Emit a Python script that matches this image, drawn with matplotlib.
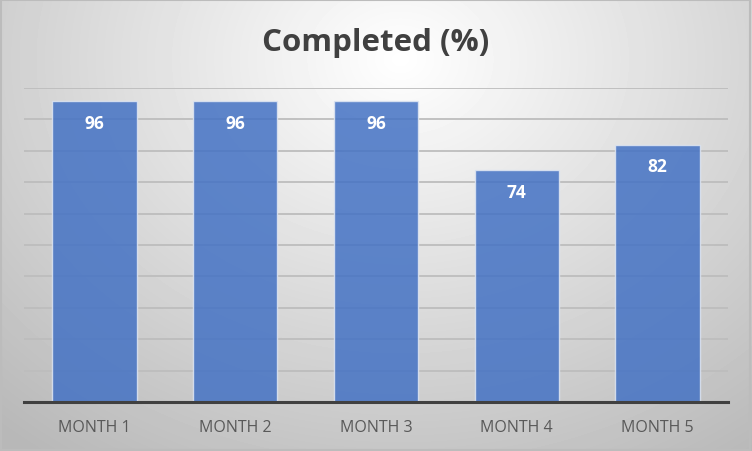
import numpy as np
import matplotlib
matplotlib.use("Agg")
import matplotlib.pyplot as plt

months = ["MONTH 1", "MONTH 2", "MONTH 3", "MONTH 4", "MONTH 5"]
completed = [96, 96, 96, 74, 82]
grid_ticks = list(range(0, 101, 10))

plt.rcParams['font.family'] = ['Open Sans', 'DejaVu Sans']

fig = plt.figure(figsize=(7.52, 4.52), dpi=100)

# radial gradient background, lighter near top centre
bg = fig.add_axes([0, 0, 1, 1])
yy, xx = np.mgrid[0:452, 0:752]
d = np.sqrt(((xx - 400) / 520.0) ** 2 + ((yy - 60) / 420.0) ** 2)
shade = np.clip(1.0 - 0.24 * d, 0.72, 1.0)
bg.imshow(shade, cmap="gray", vmin=0, vmax=1, aspect="auto", extent=[0, 1, 0, 1])
bg.set_xlim(0, 1)
bg.set_ylim(0, 1)
bg.axis("off")
# frame
bg.add_patch(plt.Rectangle((0.001, 0.002), 0.997, 0.995, fill=False,
                           edgecolor="#bcbcbc", lw=1.5, transform=bg.transAxes))

ax = fig.add_axes([24 / 752, (452 - 403) / 452, 704 / 752, 314 / 452])
ax.patch.set_alpha(0)
x = np.arange(len(months))
bars = ax.bar(x, completed, width=0.6, color="#4472C4", alpha=0.85,
              edgecolor="#dfe6f2", linewidth=1.0, zorder=3)
for xi, v in zip(x, completed):
    ax.text(xi, v - 7, str(v), ha="center", va="center", color="white",
            fontsize=12.5, fontweight="bold", zorder=4)

ax.set_xlim(-0.5, len(months) - 0.5)
ax.set_ylim(0, 100)
ax.set_yticks(grid_ticks)
ax.yaxis.grid(True, color="#bdbdbd", lw=1.3, zorder=0)
ax.tick_params(axis="y", left=False, labelleft=False)
ax.tick_params(axis="x", bottom=False, labelsize=11.5, labelcolor="#595959", pad=9)
ax.set_xticks(x)
ax.set_xticklabels(months)
for s in ["top", "right", "left"]:
    ax.spines[s].set_visible(False)
ax.spines["bottom"].set_color("#404040")
ax.spines["bottom"].set_linewidth(2.2)
ax.spines["bottom"].set_zorder(5)

fig.text(0.5, 1 - 43 / 452, "Completed (%)", ha="center", va="center",
         fontsize=22.5, fontweight="bold", color="#404040")

fig.savefig("out.png", dpi=100)
